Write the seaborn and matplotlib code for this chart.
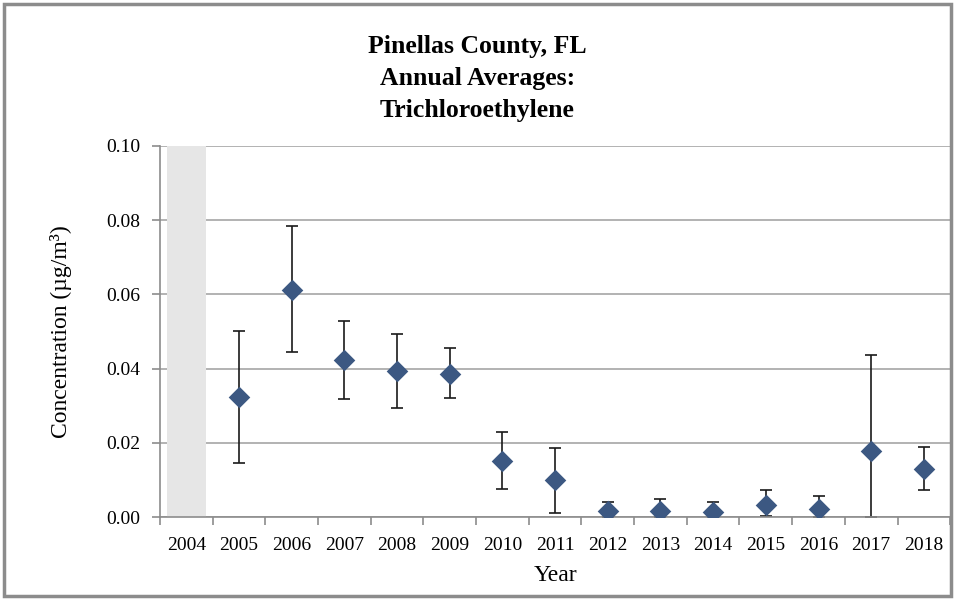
import matplotlib
matplotlib.use("Agg")
import matplotlib.pyplot as plt
from matplotlib.patches import Rectangle
from matplotlib.ticker import MultipleLocator, FixedLocator
import seaborn as sns
import pandas as pd
import numpy as np

# Data
years = ["2004", "2005", "2006", "2007", "2008", "2009", "2010", "2011",
         "2012", "2013", "2014", "2015", "2016", "2017", "2018"]
means = [np.nan, 0.0323, 0.0612, 0.0423, 0.0394, 0.0385, 0.0152, 0.0100,
         0.0017, 0.0017, 0.0013, 0.0033, 0.0021, 0.0179, 0.0129]
upper = [np.nan, 0.0502, 0.0785, 0.0529, 0.0493, 0.0456, 0.0229, 0.0186,
         0.0040, 0.0049, 0.0040, 0.0073, 0.0057, 0.0436, 0.0190]
lower = [np.nan, 0.0146, 0.0444, 0.0317, 0.0293, 0.0320, 0.0076, 0.0010,
         0.0000, 0.0000, 0.0000, 0.0003, 0.0000, 0.0000, 0.0074]
no_data_years = ["2004"]

df = pd.DataFrame({"year": years, "mean": means, "upper": upper, "lower": lower})

plt.rcParams["font.family"] = ["Liberation Serif", "DejaVu Serif"]

fig = plt.figure(figsize=(9.55, 6), dpi=100)
ax = fig.add_axes([0.1675, 0.138, 0.8275, 0.619])

# shaded band for year without data
for y in no_data_years:
    ax.bar(years.index(y), 0.10, width=0.75, color="#e6e6e6", zorder=1)

ax.set_axisbelow(True)
ax.yaxis.grid(True, color="#a6a6a6", linewidth=1.2, zorder=0)

pos = np.arange(len(years))
ax.errorbar(pos, df["mean"], yerr=[df["mean"] - df["lower"], df["upper"] - df["mean"]],
            fmt="none", ecolor="#1a1a1a", elinewidth=1.2, capsize=4.5, capthick=1.2, zorder=2)
sns.stripplot(data=df, x="year", y="mean", order=years, jitter=False, marker="D",
              size=11, color="#3c5882", linewidth=0, ax=ax, zorder=3)

ax.set_xlim(-0.5, len(years) - 0.5)
ax.set_ylim(0, 0.10)
ax.yaxis.set_major_locator(MultipleLocator(0.02))
ax.yaxis.set_major_formatter(matplotlib.ticker.FormatStrFormatter("%.2f"))
ax.set_xticks(pos)
ax.set_xticklabels(years)
ax.xaxis.set_minor_locator(FixedLocator(np.arange(-0.5, len(years), 1.0)))
ax.tick_params(axis="x", which="major", length=0, labelsize=14, pad=14)
ax.tick_params(axis="x", which="minor", length=6, color="#8c8c8c", width=1.2)
ax.tick_params(axis="y", which="major", length=6, color="#8c8c8c", width=1.2,
               labelsize=14, pad=8)

for side in ["top", "right"]:
    ax.spines[side].set_visible(False)
for side in ["left", "bottom"]:
    ax.spines[side].set_color("#8c8c8c")
    ax.spines[side].set_linewidth(1.2)

ax.set_xlabel("Year", fontsize=17, labelpad=8)
ax.set_ylabel("Concentration (µg/m³)", fontsize=17, labelpad=25)

fig.text(0.5, 0.87, "Pinellas County, FL\nAnnual Averages:\nTrichloroethylene",
         ha="center", va="center", fontsize=18.5, fontweight="bold", linespacing=1.5)

# grey frame round the whole chart
fig.patches.append(Rectangle((0.004, 0.006), 0.992, 0.988, transform=fig.transFigure,
                             fill=False, edgecolor="#8c8c8c", linewidth=2.5))

fig.savefig("out.png", dpi=100)
